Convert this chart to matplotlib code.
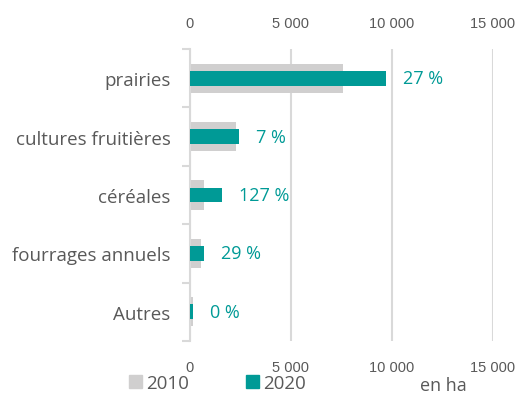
import matplotlib.pyplot as plt
import numpy as np

# Surfaces par culture (en ha)
categories = ['prairies', 'cultures fruitières', 'céréales', 'fourrages annuels', 'Autres']
v2010 = [7600, 2280, 690, 540, 150]
v2020 = [9700, 2430, 1580, 700, 150]
evol = ['27 %', '7 %', '127 %', '29 %', '0 %']
xticks = [0, 5000, 10000, 15000]
xtick_labels = ['0', '5 000', '10 000', '15 000']

grey = '#d0cfcf'
teal = '#009a96'
text_col = '#595959'

plt.rcParams['font.family'] = ['Open Sans', 'DejaVu Sans']

fig = plt.figure(figsize=(5.17, 4.14), dpi=100)
ax = fig.add_axes([0.3675, 0.174, 0.586, 0.705])

y = np.arange(len(categories))
ax.barh(y, v2010, height=0.5, color=grey, zorder=2)
ax.barh(y, v2020, height=0.25, color=teal, zorder=3)

for yi, v, t in zip(y, v2020, evol):
    ax.text(v + 850, yi, t, va='center', ha='left', color=teal, fontsize=13)

ax.set_xlim(0, 15000)
ax.set_ylim(len(categories) - 0.5, -0.5)
ax.set_xticks(xticks)
ax.set_xticklabels(xtick_labels, family=['Liberation Sans Narrow', 'Liberation Sans'])
ax.tick_params(axis='x', top=True, labeltop=True, length=0, pad=14,
               labelsize=10.5, labelcolor=text_col)
ax.grid(axis='x', color='#d9d9d9', linewidth=1.5, zorder=0)

# category labels, with separator ticks on the left spine
ax.set_yticks(y)
ax.set_yticklabels(categories)
ax.tick_params(axis='y', length=0, pad=14, labelsize=13.5, labelcolor=text_col)
ax.set_yticks(np.arange(-0.5, len(categories)), minor=True)
ax.tick_params(axis='y', which='minor', length=6, color='#d9d9d9', width=1.5)

for s in ['top', 'right', 'bottom']:
    ax.spines[s].set_visible(False)
ax.spines['left'].set_color('#d9d9d9')
ax.spines['left'].set_linewidth(1.5)

# legend
fig.patches.append(plt.Rectangle((129 / 517, 1 - 389 / 414), 13 / 517, 13 / 414,
                                 transform=fig.transFigure, color=grey))
fig.text(146 / 517, 1 - 384 / 414, '2010', va='center', ha='left', fontsize=13.5, color=text_col)
fig.patches.append(plt.Rectangle((246 / 517, 1 - 389 / 414), 13 / 517, 13 / 414,
                                 transform=fig.transFigure, color=teal))
fig.text(263 / 517, 1 - 384 / 414, '2020', va='center', ha='left', fontsize=13.5, color=text_col)
fig.text(420 / 517, 1 - 386 / 414, 'en ha', va='center', ha='left', fontsize=13, color=text_col)

fig.savefig('out.png', dpi=100)
